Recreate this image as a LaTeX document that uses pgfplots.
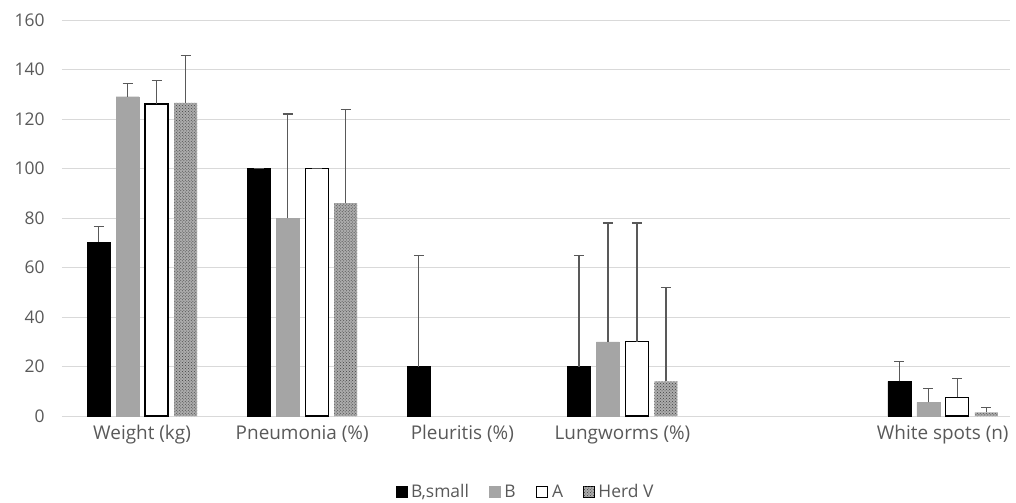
\documentclass[border=0pt]{standalone}
\usepackage{pgfplots}
\pgfplotsset{compat=1.18}
\usepackage{fontspec}
\setmainfont{Open Sans}
\usetikzlibrary{patterns}
\definecolor{txt}{HTML}{595959}
\definecolor{gridc}{HTML}{D9D9D9}
\definecolor{lgray}{HTML}{A5A5A5}
\definecolor{errc}{HTML}{595959}
\begin{document}
\begin{tikzpicture}
\path[use as bounding box] (-62bp,-87bp) rectangle (954bp,416bp);
\begin{axis}[
  scale only axis, width=948bp, height=396bp,
  ymin=0, ymax=160, ytick={0,20,...,160},
  xmin=-0.5, xmax=5.42,
  xtick={0,1,2,3,5},
  xticklabels={Weight (kg),Pneumonia (\%),Pleuritis (\%),Lungworms (\%),White spots (n)},
  ymajorgrids, grid style={color=gridc, line width=1pt},
  axis line style={draw=none}, major tick length=0pt,
  tick label style={text=txt},
  xticklabel style={font=\fontsize{19}{22}\selectfont, yshift=-6bp},
  yticklabel style={font=\fontsize{17.5}{20}\selectfont, xshift=-14bp},
  /pgf/number format/assume math mode=true,
  ybar=6bp, bar width=23bp,
  legend columns=4,
  legend style={at={(0.489,-0.192)}, anchor=center, draw=none,
    font=\fontsize{17.5}{20}\selectfont, text=txt,
    /tikz/every odd column/.append style={column sep=2bp},
    /tikz/every even column/.append style={column sep=18bp}},
  legend image code/.code={\draw[#1, /pgfplots/error bars/draw error bar/.code 2 args={}] (0bp,-5.5bp) rectangle (11bp,5.5bp);},
  error bars/y dir=plus, error bars/y explicit,
  error bars/error bar style={color=errc, line width=1.2pt},
  error bars/error mark options={rotate=90, mark size=5bp, line width=1.2pt, color=errc},
]
\addplot[fill=black, draw=black] coordinates {
  (0,70.3) +- (0,6.2)
  (1,100) +- (0,0)
  (2,20) +- (0,45)
  (3,20) +- (0,45)
  (5,14) +- (0,8)
};
\addplot[fill=lgray, draw=lgray] coordinates {
  (0,129) +- (0,5.5)
  (1,80) +- (0,42)
  (3,30) +- (0,48)
  (5,5.5) +- (0,5.5)
};
\addplot[fill=white, draw=black, line width=1.4pt] coordinates {
  (0,126) +- (0,9.5)
  (1,100) +- (0,0)
  (3,30) +- (0,48)
  (5,7.5) +- (0,7.5)
};
\addplot[fill=gray!65, draw=none, postaction={pattern=crosshatch dots, pattern color=black!75}] coordinates {
  (0,126.5) +- (0,19)
  (1,86) +- (0,38)
  (3,14) +- (0,38)
  (5,1.5) +- (0,2)
};
\legend{{B,small},B,A,Herd V}
\end{axis}
\end{tikzpicture}
\end{document}
